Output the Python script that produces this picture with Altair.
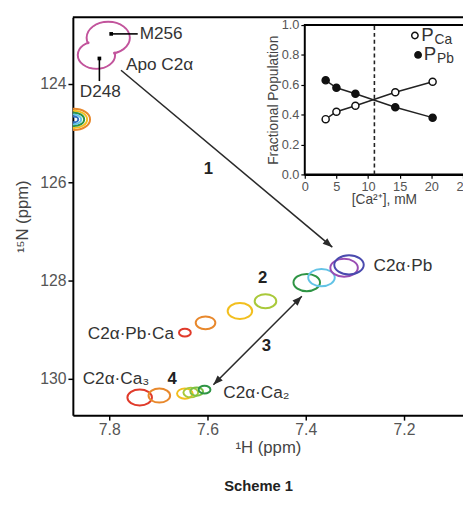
import altair as alt
import pandas as pd

# ------------------------------------------------------------------ data
# Apo C2alpha peanut-shaped contour (two lobes), ppm
apo_H = [7.802, 7.826]
apo_N = [123.06, 123.41]
apo_lw = [0.088, 0.076]

# concentric peak cut by the left edge
edge_H = [7.872, 7.872, 7.872, 7.872, 7.872]
edge_N = [124.72, 124.72, 124.72, 124.72, 124.72]
edge_lw = [0.066, 0.054, 0.042, 0.030, 0.018]
edge_key = ["orange", "yellow", "green", "cyan", "blue"]

# titration series towards C2a.Pb.Ca / C2a.Pb
pbca_H = [7.646, 7.604, 7.534, 7.482, 7.398, 7.368, 7.322, 7.312]
pbca_N = [129.06, 128.86, 128.62, 128.42, 128.04, 127.94, 127.74, 127.68]
pbca_lw = [0.024, 0.040, 0.050, 0.044, 0.054, 0.054, 0.056, 0.060]
pbca_key = ["red", "orange", "yellow", "yellowgreen", "green", "cyan", "purple", "indigo"]

# C2a.Ca3 -> C2a.Ca2 series
ca_H = [7.738, 7.698, 7.646, 7.634, 7.622, 7.606]
ca_N = [130.38, 130.34, 130.30, 130.28, 130.26, 130.22]
ca_lw = [0.050, 0.044, 0.032, 0.030, 0.026, 0.024]
ca_key = ["red", "orange", "yellow", "yellowgreen", "lightgreen", "green"]

color_keys = ["magenta", "red", "orange", "yellow", "yellowgreen", "lightgreen",
              "green", "cyan", "purple", "indigo", "blue"]
color_hex = ["#c2549c", "#e03a2a", "#e8882c", "#f2bf1e", "#a9c93a", "#7cc243",
             "#2e9444", "#62c3e6", "#9a4db3", "#4a4aae", "#2f6fc0"]

# residue markers
marker_H = [7.796, 7.820]
marker_N = [122.98, 123.48]
leader_H1 = [7.796, 7.820]
leader_H2 = [7.742, 7.820]
leader_N1 = [122.98, 123.48]
leader_N2 = [122.98, 123.94]

# labels
lab_left_text = ["M256", "Apo C2\u03b1", "C2\u03b1\u00b7Ca\u2083", "C2\u03b1\u00b7Ca\u2082", "C2\u03b1\u00b7Pb"]
lab_left_H = [7.738, 7.766, 7.854, 7.568, 7.262]
lab_left_N = [122.98, 123.62, 130.00, 130.28, 127.70]
lab_center_text = ["D248"]
lab_center_H = [7.818]
lab_center_N = [124.16]
lab_right_text = ["C2\u03b1\u00b7Pb\u00b7Ca"]
lab_right_H = [7.668]
lab_right_N = [129.08]
step_text = ["1", "2", "3", "4"]
step_H = [7.598, 7.488, 7.480, 7.672]
step_N = [125.74, 127.94, 129.34, 130.00]

# arrows
arrow_H1 = [7.776, 7.588]
arrow_N1 = [123.72, 130.12]
arrow_H2 = [7.346, 7.408]
arrow_N2 = [127.32, 128.32]
head_H = [7.346, 7.408, 7.588]
head_N = [127.32, 128.32, 130.12]
head_angle = [40, 315, 135]

# inset: fractional populations
conc = [3.3, 5.0, 8.0, 14.3, 20.2]
p_ca = [0.37, 0.42, 0.46, 0.55, 0.62]
p_pb = [0.63, 0.58, 0.54, 0.45, 0.38]
crossover = 11.0

# ------------------------------------------------------------------ layout
W, H = 397, 405
FONT = "Liberation Sans"
INSET_X = [236, 397]
INSET_Y = [160, 8]

ELLIPSE = "M-1,0A1,0.65,0,1,0,1,0A1,0.65,0,1,0,-1,0Z"
APO_SHAPE = "M-1,0A1,0.74,0,1,0,1,0A1,0.74,0,1,0,-1,0Z"
HEAD = "M0,0L-1,-0.38L-1,0.38Z"

xs = alt.Scale(domain=[7.08, 7.874], reverse=True, nice=False, zero=False)
ys = alt.Scale(domain=[122.64, 130.74], reverse=True, nice=False, zero=False)

axis_common = dict(domainColor="black", domainWidth=2, tickColor="black", tickWidth=1.5,
                   tickSize=5, labelFont=FONT, labelFontSize=16, labelColor="#555",
                   titleFont=FONT, titleFontSize=17, titleFontWeight="normal",
                   titleColor="#444", grid=False, labelFlush=False)
xaxis = alt.Axis(values=[7.8, 7.6, 7.4, 7.2], format=".1f", title="\u00b9H  (ppm)",
                 orient="bottom", titlePadding=2, **axis_common)
yaxis = alt.Axis(values=[124, 126, 128, 130], format="d", title="\u00b9\u2075N  (ppm)",
                 orient="left", titlePadding=8, **axis_common)


def X(f):
    return alt.X(f, type="quantitative", scale=xs, axis=xaxis)


def Y(f):
    return alt.Y(f, type="quantitative", scale=ys, axis=yaxis)


color_enc = alt.Color("key:N", scale=alt.Scale(domain=color_keys, range=color_hex), legend=None)
size_scale = alt.Scale(type="pow", exponent=2, domain=[0, 0.1], range=[0, 2500])
size_enc = alt.Size("lw:Q", scale=size_scale, legend=None)

apo_df = pd.DataFrame({"H": apo_H, "N": apo_N, "lw": apo_lw, "key": "magenta"})
edge_df = pd.DataFrame({"H": edge_H, "N": edge_N, "lw": edge_lw, "key": edge_key})
series_df = pd.concat([
    pd.DataFrame({"H": pbca_H, "N": pbca_N, "lw": pbca_lw, "key": pbca_key}),
    pd.DataFrame({"H": ca_H, "N": ca_N, "lw": ca_lw, "key": ca_key}),
])

frame_top = alt.Chart(pd.DataFrame({"a": [0]})).mark_rule(color="black", strokeWidth=2).encode(
    x=alt.value(0), x2=alt.value(W), y=alt.value(0))

edge = alt.Chart(edge_df).mark_point(shape=ELLIPSE, filled=False, strokeWidth=2, opacity=1,
                                     clip=True).encode(X("H"), Y("N"), color=color_enc, size=size_enc)

apo_line = alt.Chart(apo_df).mark_point(shape=APO_SHAPE, filled=False, strokeWidth=2, opacity=1).encode(
    X("H"), Y("N"), color=color_enc, size=size_enc)
apo_fill = alt.Chart(apo_df).transform_calculate(lwin="datum.lw - 0.007").mark_point(
    shape=APO_SHAPE, filled=True, color="white", opacity=1).encode(
    X("H"), Y("N"), size=alt.Size("lwin:Q", scale=size_scale, legend=None))

series = alt.Chart(series_df).mark_point(shape=ELLIPSE, filled=False, strokeWidth=2, opacity=1).encode(
    X("H"), Y("N"), color=color_enc, size=size_enc)

arrows = alt.Chart(pd.DataFrame({"H1": arrow_H1, "N1": arrow_N1, "H2": arrow_H2, "N2": arrow_N2})).mark_rule(
    color="#2a2a2a", strokeWidth=1.6).encode(X("H1"), Y("N1"), x2="H2", y2="N2")
heads = alt.Chart(pd.DataFrame({"H": head_H, "N": head_N, "ang": head_angle})).mark_point(
    shape=HEAD, filled=True, color="#2a2a2a", opacity=1, size=380).encode(
    X("H"), Y("N"), angle=alt.Angle("ang:Q", scale=None))

markers = alt.Chart(pd.DataFrame({"H": marker_H, "N": marker_N})).mark_point(
    shape="square", filled=True, color="black", opacity=1, size=14).encode(X("H"), Y("N"))
leaders = alt.Chart(pd.DataFrame({"H1": leader_H1, "H2": leader_H2, "N1": leader_N1, "N2": leader_N2})).mark_rule(
    color="black", strokeWidth=1.6).encode(X("H1"), Y("N1"), x2="H2", y2="N2")

txt_style = dict(font=FONT, fontSize=17.5, color="#333", baseline="middle")
t_left = alt.Chart(pd.DataFrame({"H": lab_left_H, "N": lab_left_N, "t": lab_left_text})).mark_text(
    align="left", **txt_style).encode(X("H"), Y("N"), text="t:N")
t_center = alt.Chart(pd.DataFrame({"H": lab_center_H, "N": lab_center_N, "t": lab_center_text})).mark_text(
    align="center", **txt_style).encode(X("H"), Y("N"), text="t:N")
t_right = alt.Chart(pd.DataFrame({"H": lab_right_H, "N": lab_right_N, "t": lab_right_text})).mark_text(
    align="right", **txt_style).encode(X("H"), Y("N"), text="t:N")
t_step = alt.Chart(pd.DataFrame({"H": step_H, "N": step_N, "t": step_text})).mark_text(
    align="center", font=FONT, fontSize=17, fontWeight="bold", color="#222", baseline="middle").encode(
    X("H"), Y("N"), text="t:N")

scheme = alt.Chart(pd.DataFrame({"t": ["Scheme 1"]})).mark_text(
    font=FONT, fontSize=15, fontWeight="bold", color="#222", align="center", baseline="middle").encode(
    x=alt.value(189), y=alt.value(477), text="t:N")

main = alt.layer(frame_top, edge, apo_line, apo_fill, series, arrows, heads, leaders, markers,
                 t_left, t_center, t_right, t_step, scheme)

# ------------------------------------------------------------------ inset
ixs = alt.Scale(domain=[0, 25], range=INSET_X, nice=False, zero=False)
iys = alt.Scale(domain=[0, 1], range=INSET_Y, nice=False, zero=False)
iaxis_common = dict(domainColor="black", domainWidth=2, tickColor="black", tickWidth=1.2,
                    tickSize=4, labelFont=FONT, labelFontSize=13, labelColor="#555",
                    titleFont=FONT, titleFontSize=14, titleFontWeight="normal",
                    titleColor="#444", grid=False, labelFlush=False, labelOverlap=False)
ixaxis = alt.Axis(values=[0, 5, 10, 15, 20, 25], format="d", title="[Ca\u00b2\u207a], mM",
                  orient="bottom", offset=-(H - INSET_Y[0]), titlePadding=0, **iaxis_common)
iyaxis = alt.Axis(values=[0, 0.2, 0.4, 0.6, 0.8, 1.0], format=".1f", title="Fractional Population",
                  orient="left", offset=-INSET_X[0], titlePadding=1, **iaxis_common)


def IX(f):
    return alt.X(f, type="quantitative", scale=ixs, axis=ixaxis)


def IY(f):
    return alt.Y(f, type="quantitative", scale=iys, axis=iyaxis)


pop_df = pd.concat([
    pd.DataFrame({"c": conc, "p": p_ca, "s": "Ca"}),
    pd.DataFrame({"c": conc, "p": p_pb, "s": "Pb"}),
])
fill_enc = alt.Fill("s:N", scale=alt.Scale(domain=["Ca", "Pb"], range=["white", "#111"]), legend=None)

box = alt.Chart(pd.DataFrame({"a": [0]})).mark_rect(fill="white", stroke="black", strokeWidth=2).encode(
    x=alt.value(INSET_X[0]), x2=alt.value(INSET_X[1] + 4), y=alt.value(INSET_Y[1]), y2=alt.value(INSET_Y[0]))
dash = alt.Chart(pd.DataFrame({"c": [crossover], "p0": [0.0], "p1": [1.0]})).mark_rule(
    color="#222", strokeWidth=1.6, strokeDash=[4, 3]).encode(IX("c"), IY("p0"), y2="p1")
lines = alt.Chart(pop_df).mark_line(color="#222", strokeWidth=1.5).encode(IX("c"), IY("p"), detail="s:N")
pts = alt.Chart(pop_df).mark_point(shape="circle", filled=True, stroke="#111", strokeWidth=1.5,
                                   opacity=1, size=52).encode(IX("c"), IY("p"), fill=fill_enc)

leg_pts = alt.Chart(pd.DataFrame({"c": [17.4, 17.9], "p": [0.93, 0.80], "s": ["Ca", "Pb"]})).mark_point(
    shape="circle", filled=True, stroke="#111", strokeWidth=1.5, opacity=1, size=42).encode(
    IX("c"), IY("p"), fill=fill_enc)
leg_P = alt.Chart(pd.DataFrame({"c": [18.4, 18.8], "p": [0.935, 0.805], "t": ["P", "P"]})).mark_text(
    align="left", baseline="middle", font=FONT, fontSize=19, color="#333").encode(IX("c"), IY("p"), text="t:N")
leg_sub = alt.Chart(pd.DataFrame({"c": [20.5, 20.9], "p": [0.90, 0.77], "t": ["Ca", "Pb"]})).mark_text(
    align="left", baseline="middle", font=FONT, fontSize=14, color="#333").encode(IX("c"), IY("p"), text="t:N")

inset = alt.layer(box, dash, lines, pts, leg_pts, leg_P, leg_sub)

chart = alt.layer(main, inset).resolve_scale(x="independent", y="independent").properties(
    width=W, height=H,
    autosize=alt.AutoSizeParams(type="none"),
    padding={"left": 66, "top": 5, "right": 0, "bottom": 85},
    background="white",
).configure_view(stroke=None)

chart.save("out.html", embed_options={"renderer": "svg", "actions": False})
